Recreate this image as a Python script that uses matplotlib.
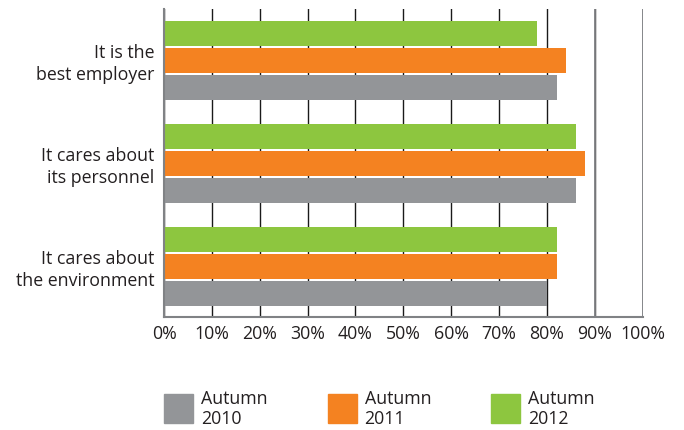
import matplotlib
matplotlib.use('Agg')
from matplotlib import pyplot as plt
from matplotlib.patches import Rectangle
import numpy as np

#%% datos
categorias = ['It cares about\nthe environment', 'It cares about\nits personnel', 'It is the\nbest employer']
series = ['Autumn\n2010', 'Autumn\n2011', 'Autumn\n2012']
val_2010 = [80, 86, 82]
val_2011 = [82, 88, 84]
val_2012 = [82, 86, 78]
colores = ['#939598', '#f48221', '#8dc63f']
ticks_x = [0, 10, 20, 30, 40, 50, 60, 70, 80, 90, 100]

plt.rcParams['font.family'] = ['Open Sans', 'DejaVu Sans']
txt_col = '#231f20'

#%% figura
fig = plt.figure(figsize=(6.84, 4.30), dpi=100)
ax = fig.add_axes([0.2398, 0.2628, 0.6998, 0.7162])

paso = 103 / 27  # separacion entre grupos
y_grupo = np.arange(len(categorias)) * paso
alto = 24.7 / 27
for k, vals in enumerate([val_2010, val_2011, val_2012]):
    ax.barh(y_grupo + (k - 1), vals, height=alto, color=colores[k], zorder=3)

ax.set_xlim(0, 100)
ax.set_ylim(-1.87, y_grupo[-1] + 1.9)
ax.set_xticks(ticks_x)
ax.set_xticklabels([f'{t}%' for t in ticks_x], fontsize=12.8, color=txt_col)
ax.set_yticks(y_grupo)
ax.set_yticklabels(categorias, fontsize=12.8, color=txt_col, linespacing=1.25)
ax.tick_params(axis='both', length=0)
ax.tick_params(axis='y', pad=7)
ax.tick_params(axis='x', pad=6)

ax.grid(axis='x', color='#1a1a1a', lw=1.0, zorder=0)
ax.set_axisbelow(True)
for s in ['top', 'right']:
    ax.spines[s].set_visible(False)
for s in ['left', 'bottom']:
    ax.spines[s].set_color('#808285')
    ax.spines[s].set_linewidth(1.5)
    ax.spines[s].set_zorder(4)
for t in [90, 100]:
    ax.axvline(t, color='#808285', lw=1.3, zorder=2)

# leyenda manual
W, H = 684, 430
x_ley = [164, 327.5, 491]
for k, lab in enumerate(series):
    fig.patches.append(Rectangle((x_ley[k] / W, 1 - 423 / H), 29 / W, 29 / H,
                                 transform=fig.transFigure, color=colores[k]))
    fig.text((x_ley[k] + 37) / W, 1 - 409 / H, lab, fontsize=12.8, color=txt_col,
             va='center', ha='left', linespacing=1.2)

plt.savefig('out.png', dpi=100)
